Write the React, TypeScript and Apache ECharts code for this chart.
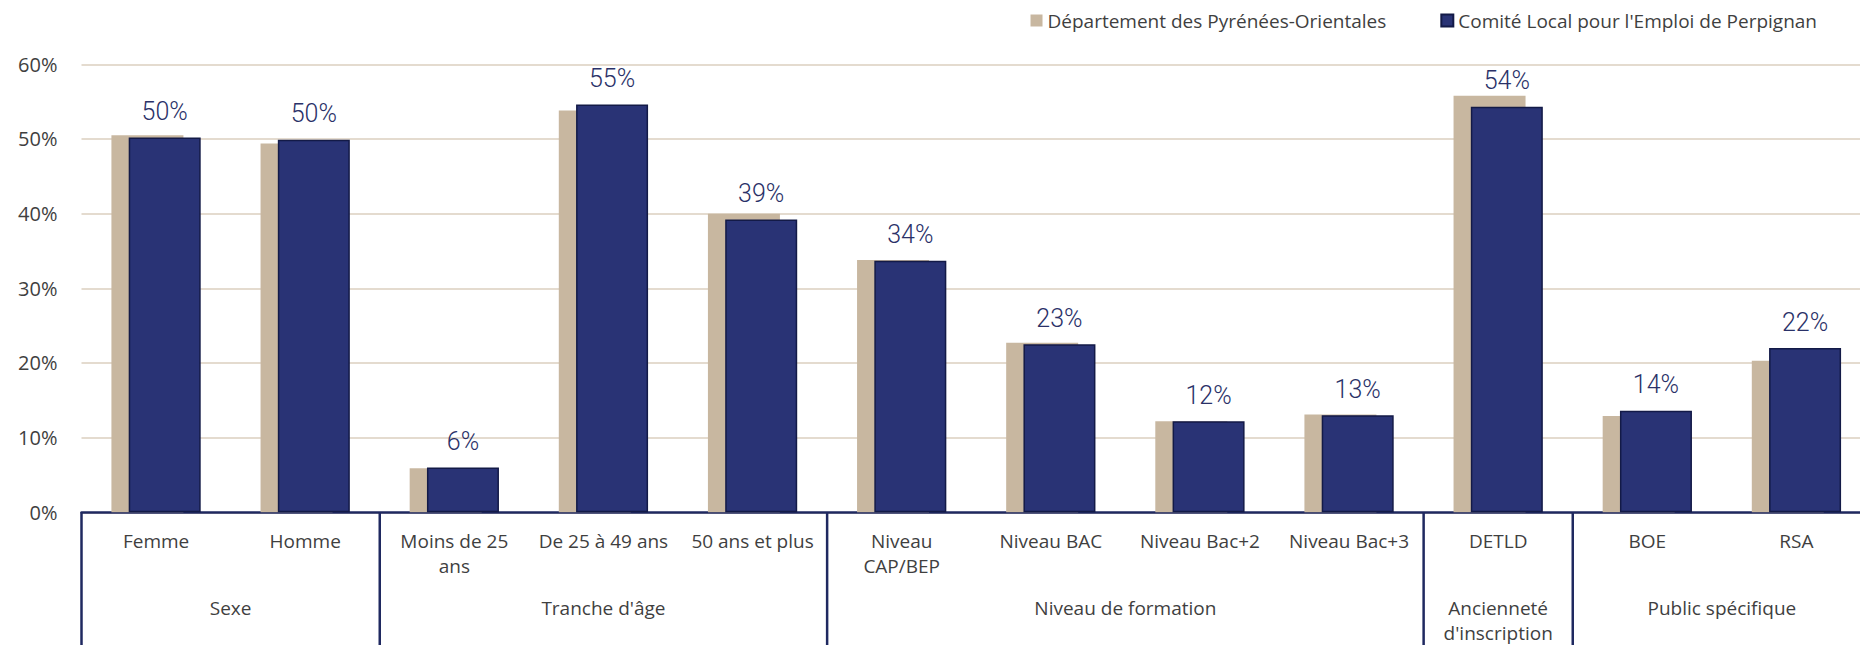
import React, { useEffect, useRef } from "react";
import * as echarts from "echarts";

const categories = [
  "Femme",
  "Homme",
  "Moins de 25\nans",
  "De 25 à 49 ans",
  "50 ans et plus",
  "Niveau\nCAP/BEP",
  "Niveau BAC",
  "Niveau Bac+2",
  "Niveau Bac+3",
  "DETLD",
  "BOE",
  "RSA",
];
const departement = [50.5, 49.4, 5.9, 53.8, 40.0, 33.8, 22.7, 12.2, 13.1, 55.8, 12.9, 20.3];
const comiteLocal = [50.2, 49.9, 6.0, 54.6, 39.2, 33.7, 22.5, 12.2, 13.0, 54.3, 13.6, 22.0];
const groupNames = ["Sexe", "Tranche d'âge", "Niveau de formation", "Ancienneté\nd'inscription", "Public spécifique"];
const groupSizes = [2, 3, 4, 1, 2];
const seriesNames = ["Département des Pyrénées-Orientales", "Comité Local pour l'Emploi de Perpignan"];
const yMin = 0;
const yMax = 60;
const yStep = 10;

const W = 1860;
const H = 645;
const OVER = 11; // the plot runs slightly past the right edge of the picture
const TAN = "#c8b7a0";
const NAVY = "#293375";
const NAVY_BORDER = "#131a47";
const AXIS_NAVY = "#1f2960";
const TEXT = "#3f3f3f";
const GRID = "#e4dbcf";
const FONT = "'Open Sans', Lato, sans-serif";

export default function App() {
  const ref = useRef<HTMLDivElement>(null);
  useEffect(() => {
    if (!ref.current) return;
    const chart = echarts.init(ref.current, undefined, { renderer: "svg" });
    chart.setOption({
      animation: false,
      backgroundColor: "#ffffff",
      textStyle: { fontFamily: FONT },
      legend: {
        data: seriesNames,
        right: 38 + OVER,
        top: 6,
        itemWidth: 12,
        itemHeight: 12,
        itemGap: 54,
        icon: "rect",
        textStyle: { fontSize: 19, color: TEXT, fontFamily: FONT },
      },
      grid: { left: 81.5, right: 0, top: 64.3, bottom: 132.7, containLabel: false },
      xAxis: {
        type: "category",
        data: categories,
        axisLine: { show: true, lineStyle: { color: AXIS_NAVY, width: 2.5 } },
        axisTick: { show: false },
        axisLabel: {
          interval: 0,
          fontSize: 19,
          lineHeight: 25,
          margin: 16,
          color: TEXT,
          fontFamily: FONT,
        },
      },
      yAxis: {
        type: "value",
        min: yMin,
        max: yMax,
        interval: yStep,
        axisLine: { show: false },
        axisTick: { show: false },
        axisLabel: {
          formatter: "{value}%",
          fontSize: 20,
          margin: 24,
          color: TEXT,
          fontFamily: FONT,
        },
        splitLine: { lineStyle: { color: GRID, width: 2 } },
      },
      series: [
        {
          name: seriesNames[0],
          type: "bar",
          data: departement,
          barWidth: 72,
          barGap: "-76%",
          itemStyle: { color: TAN },
        },
        {
          name: seriesNames[1],
          type: "bar",
          data: comiteLocal,
          barWidth: 72,
          barGap: "-76%",
          itemStyle: { color: NAVY, borderColor: NAVY_BORDER, borderWidth: 1.5 },
          label: {
            show: true,
            position: "top",
            distance: 13.5,
            formatter: (p: any) => Math.round(p.value) + "%",
            fontSize: 25,
            fontWeight: 300,
            fontFamily: "Roboto, sans-serif",
            color: "#2a3168",
          },
        },
      ],
    });

    // group separators and group labels, positioned from the axis scale
    const cx = (i: number) => chart.convertToPixel({ xAxisIndex: 0 }, i) as number;
    const bw = cx(1) - cx(0);
    const y0 = chart.convertToPixel({ yAxisIndex: 0 }, 0) as number;
    const graphics: any[] = [];
    let start = 0;
    groupSizes.forEach((size, g) => {
      const left = cx(start) - bw / 2;
      const right = cx(start + size - 1) + bw / 2;
      graphics.push({
        type: "line",
        shape: { x1: left, y1: y0, x2: left, y2: H },
        style: { stroke: AXIS_NAVY, lineWidth: 2.5 },
        z: 10,
      });
      if (g === groupSizes.length - 1) {
        graphics.push({
          type: "line",
          shape: { x1: right, y1: y0, x2: right, y2: H },
          style: { stroke: AXIS_NAVY, lineWidth: 2.5 },
          z: 10,
        });
      }
      graphics.push({
        type: "text",
        x: (left + right) / 2,
        y: y0 + 83,
        style: {
          text: groupNames[g],
          fill: TEXT,
          fontSize: 19,
          fontFamily: FONT,
          lineHeight: 25,
          align: "center",
          verticalAlign: "top",
        },
        z: 10,
      });
      start += size;
    });
    chart.setOption({ graphic: graphics });

    return () => chart.dispose();
  }, []);

  return (
    <div
      style={{
        position: "fixed",
        left: 0,
        top: 0,
        width: W,
        height: H,
        overflow: "hidden",
        background: "#fff",
      }}
    >
      <div ref={ref} style={{ width: W + OVER, height: H }} />
    </div>
  );
}
